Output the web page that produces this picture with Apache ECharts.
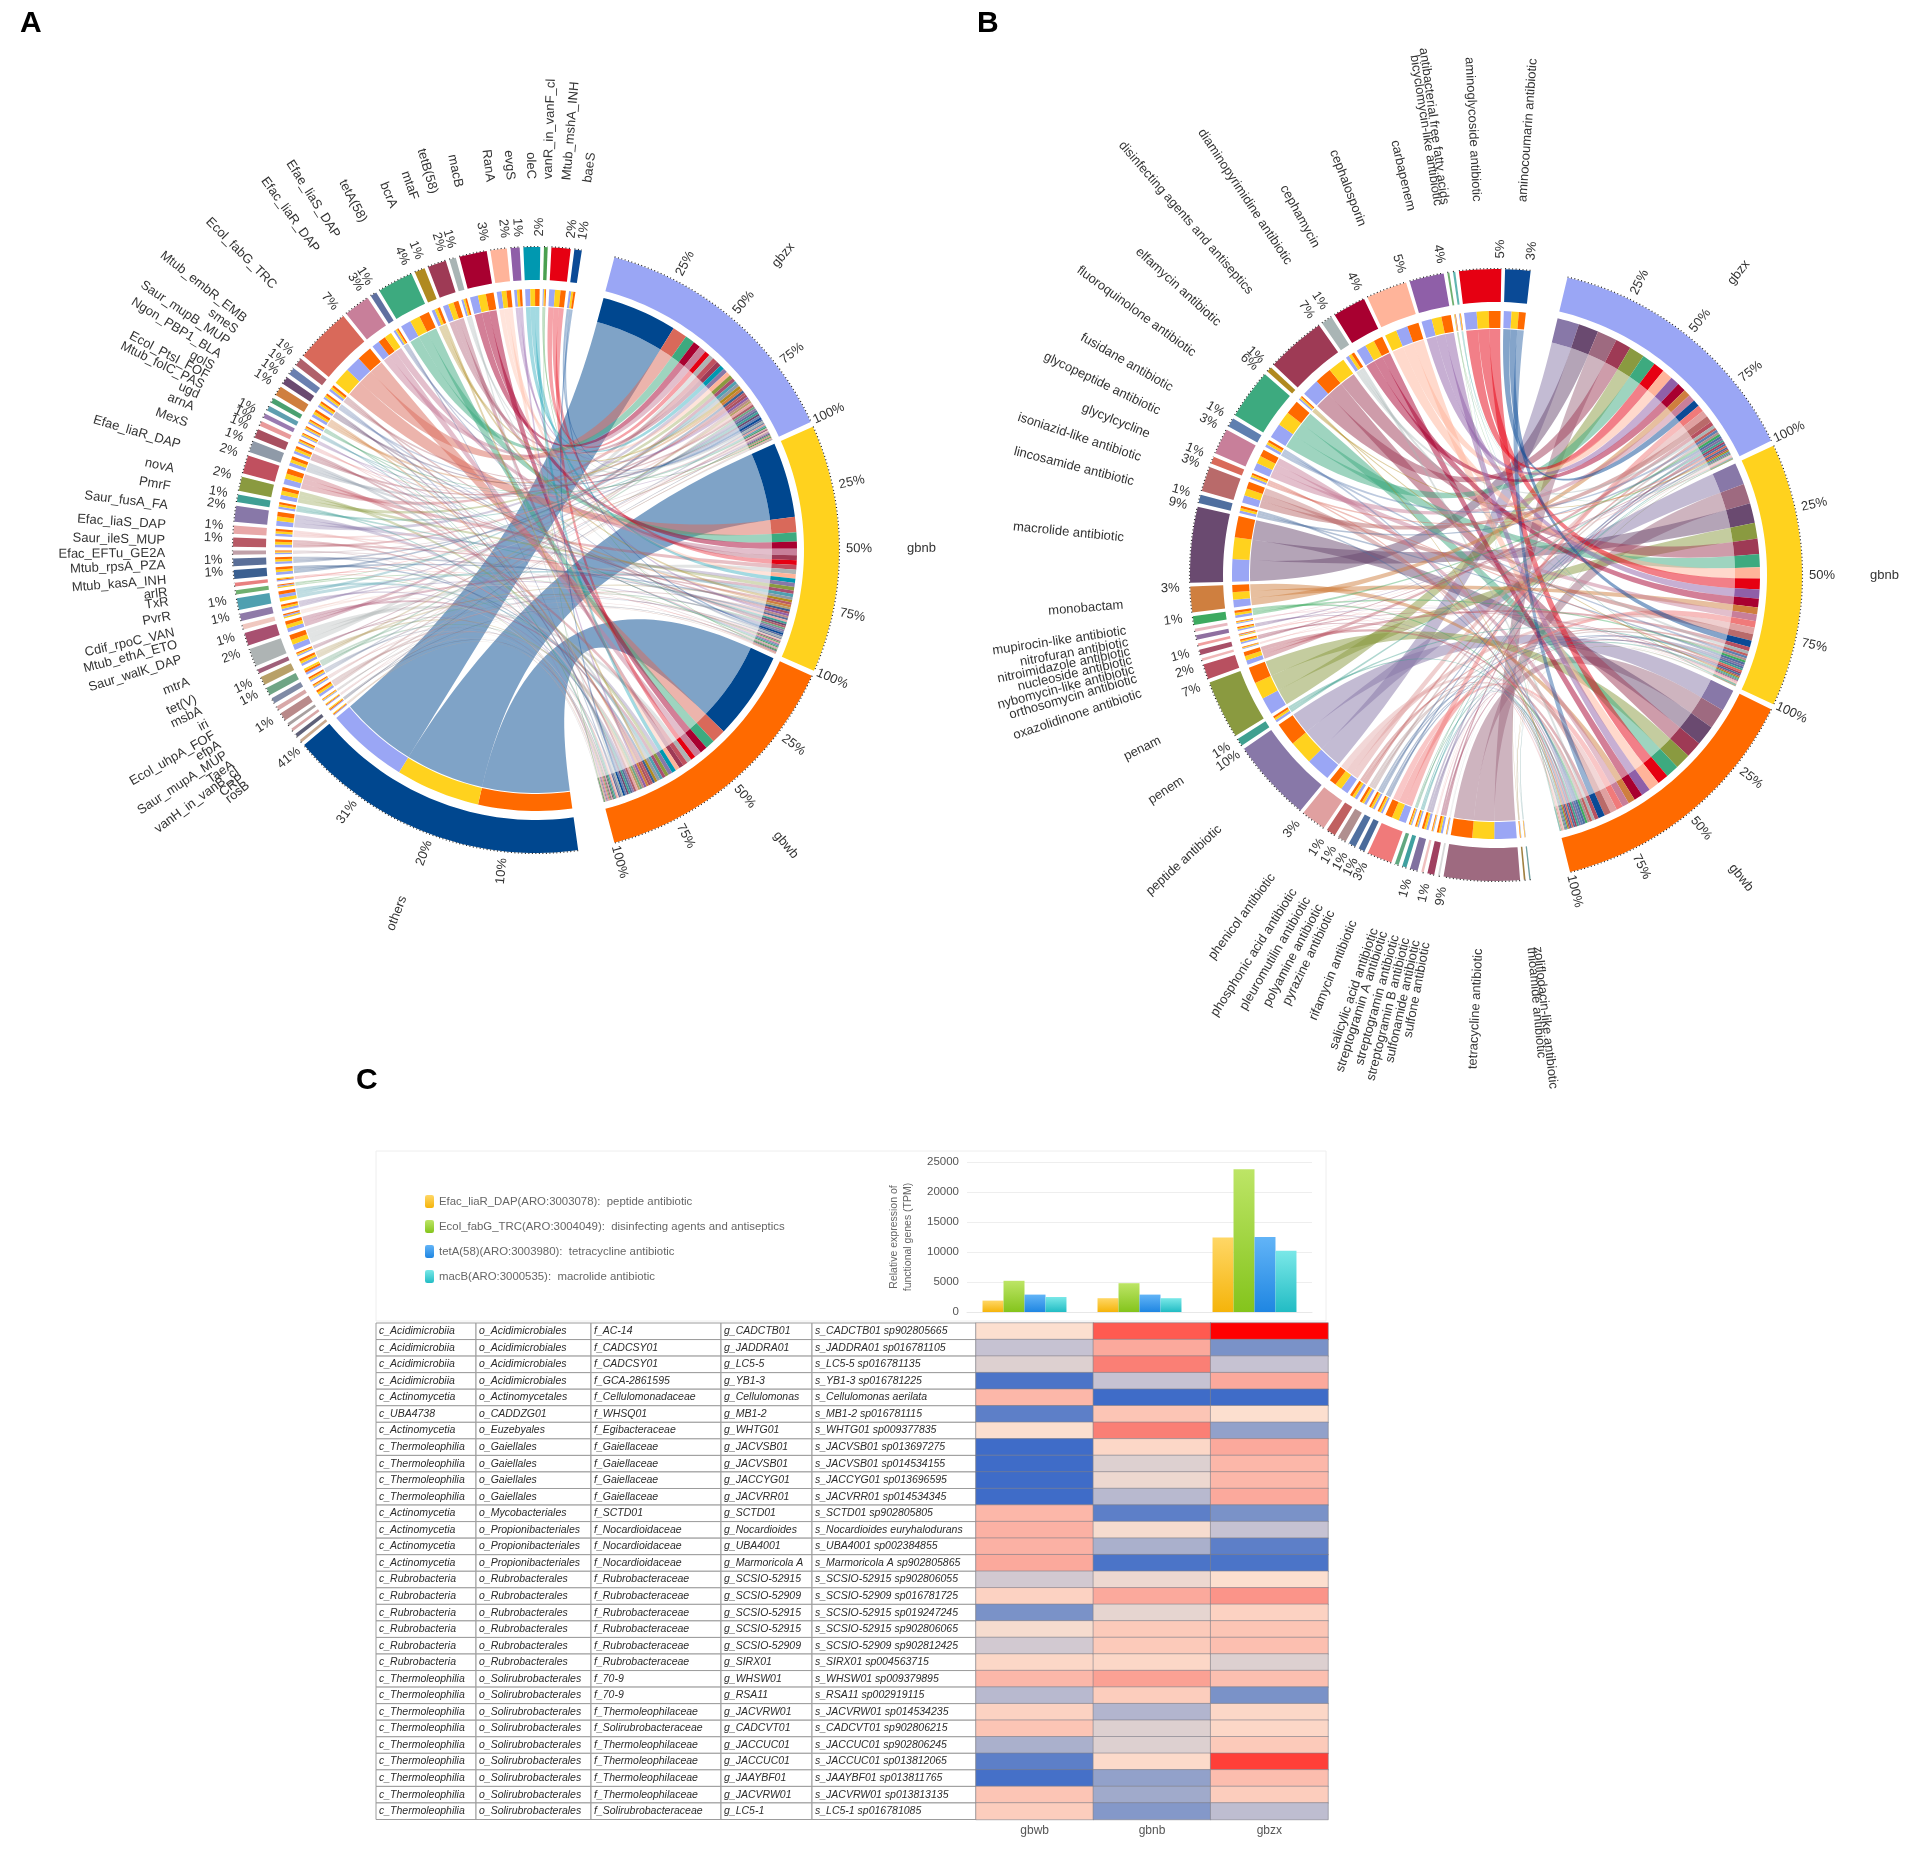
<!DOCTYPE html>
<html><head><meta charset="utf-8">
<style>html,body{margin:0;padding:0;background:#fff}#c{width:1910px;height:1850px}</style>
<script src="https://cdn.jsdelivr.net/npm/echarts@6/dist/echarts.min.js"></script>
</head><body><div id="c"></div>
<script>
// ---------- Panel A ----------
const genesA = ['others','rosB','CRP','vanH_in_vanB_cl','TaeA','Saur_mupA_MUP','efpA','Ecol_uhpA_FOF','iri','msbA','tet(V)','mtrA','Saur_walK_DAP','Mtub_ethA_ETO','Cdif_rpoC_VAN','PvrR','TxR','arlR','Mtub_kasA_INH','Mtub_rpsA_PZA','Efac_EFTu_GE2A','Saur_ileS_MUP','Efac_liaS_DAP','Saur_fusA_FA','PmrF','novA','Efae_liaR_DAP','MexS','arnA','ugd','Mtub_folC_PAS','Ecol_PtsI_FOF','golS','Ngon_PBP1_BLA','Saur_mupB_MUP','smeS','Mtub_embR_EMB','Ecol_fabG_TRC','Efac_liaR_DAP','Efae_liaS_DAP','tetA(58)','bcrA','mtaF','tetB(58)','macB','RanA','evgS','oleC','vanR_in_vanF_cl','Mtub_mshA_INH','baeS'];
const pctA = ['','','','','','1%','','','1%','1%','','2%','1%','','1%','1%','','','1%','1%','','1%','1%','2%','1%','2%','2%','1%','1%','1%','1%','','','1%','1%','1%','1%','7%','3%','1%','4%','1%','2%','1%','3%','2%','1%','2%','','2%','1%'];
const colorsA = ['#00478f','#c9a98f','#5f6078','#d8a8a8','#a8a0a0','#b98a8a','#d8a8a8','#7f8aa5','#6fa585','#b8a068','#a0607a','#aeb4b4','#a85070','#f0c8c0','#8f7aa8','#4fa0b0','#6fb070','#e88080','#3a5f90','#5a6f98','#c0a0a8','#b85a66','#e8a8a8','#8878a8','#3f9f95','#8a9a40','#c0505f','#8f9aa8','#a85060','#e89a9a','#9a7ab0','#5f9fb0','#4aa070','#cf7f3f','#6a4a70','#6a80b0','#b0606a','#d9695a','#c87f9a','#5f70a0','#3daa7f','#b08a20','#9e3a55','#a9b5b5','#a80030','#ffb49a','#8f5fa8','#0098b0','#4aa050','#e60012','#0a4a96'];
const gbzxA = [36,.4,.5,.4,.4,1.1,.6,.8,1,1.1,.6,2.4,1.7,.6,1,1.5,.5,.5,1.2,1,.6,1.2,1.1,2.1,1,1.9,2.4,1.5,1.2,.7,.6,.7,.7,1.3,1,1,1.1,7,3.4,.9,4.6,1.4,2.4,.9,3.5,2.1,1.2,2.2,.5,2.5,1];
const gbnbA = [37,.3,.4,.3,.4,1,.5,.7,.9,1.1,.6,2.2,1.6,.7,.9,1.6,.6,.4,1.1,1,.5,1.2,1,2,1,1.8,2.3,1.4,1.1,.6,.6,.6,.6,1.2,1,.9,1,7.5,3.2,.8,4.5,1.3,2.4,.8,3.5,2.1,1.1,2.1,.5,2.4,.9];
const gbwbA = [41,.4,.5,.4,.3,1,.5,.7,1,1,.5,2.2,1.5,.6,.9,1.4,.5,.5,1.1,.9,.5,1.1,1,1.9,.9,1.6,2.2,1.4,1.1,.6,.5,.6,.6,1.1,.9,.9,1,6.5,3.3,.7,4.4,1.2,2.2,.8,3.4,2,1.1,2,.4,2.3,.9];
// ---------- Panel B ----------
const genesB = ['zoliflodacin-like antibiotic','thioamide antibiotic','tetracycline antibiotic','sulfone antibiotic','sulfonamide antibiotic','streptogramin B antibiotic','streptogramin antibiotic','streptogramin A antibiotic','salicylic acid antibiotic','rifamycin antibiotic','pyrazine antibiotic','polyamine antibiotic','pleuromutilin antibiotic','phosphonic acid antibiotic','phenicol antibiotic','peptide antibiotic','penem','penam','oxazolidinone antibiotic','orthosomycin antibiotic','nybomycin-like antibiotic','nucleoside antibiotic','nitroimidazole antibiotic','nitrofuran antibiotic','mupirocin-like antibiotic','monobactam','macrolide antibiotic','lincosamide antibiotic','isoniazid-like antibiotic','glycylcycline','glycopeptide antibiotic','fusidane antibiotic','fluoroquinolone antibiotic','elfamycin antibiotic','disinfecting agents and antiseptics','diaminopyrimidine antibiotic','cephamycin','cephalosporin','carbapenem','bicyclomycin-like antibiotic','antibacterial free fatty acids','aminoglycoside antibiotic','aminocoumarin antibiotic'];
const pctB = ['','','9%','','1%','','1%','','','3%','1%','1%','1%','1%','3%','10%','1%','7%','2%','','1%','','','','1%','3%','9%','1%','3%','1%','3%','1%','6%','1%','7%','1%','4%','5%','4%','','','5%','3%'];
const colorsB = ['#70a0a0','#a08040','#9e6a80','#d8d8d8','#a04060','#f0c0c0','#8070a0','#40a0a0','#60a880','#f07a7a','#4a6a9a','#5070a0','#b09090','#c06060','#e0a0a0','#8878a8','#40a090','#8a9a40','#b85060','#f0b8b8','#a85068','#f0a0a0','#8f70a0','#e8b8c0','#3daa60','#cf7f3f','#6a4a70','#4f6f9f','#b96a6a','#d96a5a','#c87f9a','#5f7fb0','#3daa7f','#b08a20','#9e3a55','#a9b5b5','#a80030','#ffb49a','#8f5fa8','#6fb070','#5fb5b0','#e60012','#0a4a96'];
const gbzxB = [.2,.2,9.3,.3,.9,.3,1,.6,.5,3.1,.8,.9,1.1,1.2,3.1,10.2,1,7.2,1.9,.3,.7,.3,.6,.4,1.1,3.2,9.4,1.1,3.1,.9,3.2,1.2,6.2,.7,7.3,1.4,4.1,4.9,4.3,.2,.3,5.2,3.2];
const gbnbB = [.2,.2,9.1,.2,.8,.3,.9,.5,.5,3,.8,.9,1,1.1,3,10,.9,7.1,1.8,.3,.6,.4,.5,.4,1,3.1,9,1,3,.9,3.1,1.1,6,.6,7,1.3,4,5,4.1,.3,.3,5,3];
const gbwbB = [.1,.2,8.9,.2,.8,.3,.9,.5,.4,2.9,.7,.8,1,1.1,2.9,9.6,.9,6.8,1.7,.3,.6,.3,.5,.3,1,3,8.8,1,2.9,.8,3,1,5.8,.6,7.1,1.3,3.8,4.8,4,.2,.2,4.9,2.9];
// ---------- Shared chord labels ----------
const genomeNames = ['gbzx','gbnb','gbwb'];
const genomeColors = ['#9aa6f5','#ffd21e','#ff6a00'];
const genomeTicks = ['25%','50%','75%','100%'];
const othersTicks = ['10%','20%','31%','41%'];
// ---------- Panel C bars ----------
const barCats = ['gbwb','gbnb','gbzx'];
const efacLiaR = [1900,2300,12400];
const ecolFabG = [5200,4800,23800];
const tetA58 = [2900,2900,12500];
const macB = [2500,2300,10200];
const barNames = ['Efac_liaR_DAP(ARO:3003078):  peptide antibiotic','Ecol_fabG_TRC(ARO:3004049):  disinfecting agents and antiseptics','tetA(58)(ARO:3003980):  tetracycline antibiotic','macB(ARO:3000535):  macrolide antibiotic'];
// ---------- Panel C table and heat ----------
const classes = ['c_Acidimicrobiia','c_Acidimicrobiia','c_Acidimicrobiia','c_Acidimicrobiia','c_Actinomycetia','c_UBA4738','c_Actinomycetia','c_Thermoleophilia','c_Thermoleophilia','c_Thermoleophilia','c_Thermoleophilia','c_Actinomycetia','c_Actinomycetia','c_Actinomycetia','c_Actinomycetia','c_Rubrobacteria','c_Rubrobacteria','c_Rubrobacteria','c_Rubrobacteria','c_Rubrobacteria','c_Rubrobacteria','c_Thermoleophilia','c_Thermoleophilia','c_Thermoleophilia','c_Thermoleophilia','c_Thermoleophilia','c_Thermoleophilia','c_Thermoleophilia','c_Thermoleophilia','c_Thermoleophilia'];
const orders = ['o_Acidimicrobiales','o_Acidimicrobiales','o_Acidimicrobiales','o_Acidimicrobiales','o_Actinomycetales','o_CADDZG01','o_Euzebyales','o_Gaiellales','o_Gaiellales','o_Gaiellales','o_Gaiellales','o_Mycobacteriales','o_Propionibacteriales','o_Propionibacteriales','o_Propionibacteriales','o_Rubrobacterales','o_Rubrobacterales','o_Rubrobacterales','o_Rubrobacterales','o_Rubrobacterales','o_Rubrobacterales','o_Solirubrobacterales','o_Solirubrobacterales','o_Solirubrobacterales','o_Solirubrobacterales','o_Solirubrobacterales','o_Solirubrobacterales','o_Solirubrobacterales','o_Solirubrobacterales','o_Solirubrobacterales'];
const families = ['f_AC-14','f_CADCSY01','f_CADCSY01','f_GCA-2861595','f_Cellulomonadaceae','f_WHSQ01','f_Egibacteraceae','f_Gaiellaceae','f_Gaiellaceae','f_Gaiellaceae','f_Gaiellaceae','f_SCTD01','f_Nocardioidaceae','f_Nocardioidaceae','f_Nocardioidaceae','f_Rubrobacteraceae','f_Rubrobacteraceae','f_Rubrobacteraceae','f_Rubrobacteraceae','f_Rubrobacteraceae','f_Rubrobacteraceae','f_70-9','f_70-9','f_Thermoleophilaceae','f_Solirubrobacteraceae','f_Thermoleophilaceae','f_Thermoleophilaceae','f_Thermoleophilaceae','f_Thermoleophilaceae','f_Solirubrobacteraceae'];
const genera = ['g_CADCTB01','g_JADDRA01','g_LC5-5','g_YB1-3','g_Cellulomonas','g_MB1-2','g_WHTG01','g_JACVSB01','g_JACVSB01','g_JACCYG01','g_JACVRR01','g_SCTD01','g_Nocardioides','g_UBA4001','g_Marmoricola A','g_SCSIO-52915','g_SCSIO-52909','g_SCSIO-52915','g_SCSIO-52915','g_SCSIO-52909','g_SIRX01','g_WHSW01','g_RSA11','g_JACVRW01','g_CADCVT01','g_JACCUC01','g_JACCUC01','g_JAAYBF01','g_JACVRW01','g_LC5-1'];
const species = ['s_CADCTB01 sp902805665','s_JADDRA01 sp016781105','s_LC5-5 sp016781135','s_YB1-3 sp016781225','s_Cellulomonas aerilata','s_MB1-2 sp016781115','s_WHTG01 sp009377835','s_JACVSB01 sp013697275','s_JACVSB01 sp014534155','s_JACCYG01 sp013696595','s_JACVRR01 sp014534345','s_SCTD01 sp902805805','s_Nocardioides euryhalodurans','s_UBA4001 sp002384855','s_Marmoricola A sp902805865','s_SCSIO-52915 sp902806055','s_SCSIO-52909 sp016781725','s_SCSIO-52915 sp019247245','s_SCSIO-52915 sp902806065','s_SCSIO-52909 sp902812425','s_SIRX01 sp004563715','s_WHSW01 sp009379895','s_RSA11 sp002919115','s_JACVRW01 sp014534235','s_CADCVT01 sp902806215','s_JACCUC01 sp902806245','s_JACCUC01 sp013812065','s_JAAYBF01 sp013811765','s_JACVRW01 sp013813135','s_LC5-1 sp016781085'];
const heatGbwb = [5,3,4,.2,6.5,.5,5,0,0,0,0,6.5,6.7,6.7,7,3.5,5.5,1,4.8,3.5,5.3,6.5,2.5,5.5,6,2,.5,.1,6,5.7];
const heatGbnb = [9,7,8,3,0,6,8,5.3,4,4.5,2.5,.5,4.8,2,.2,4.5,7,4.3,5.8,5.8,5.3,7.2,5.7,2.3,4,4,5.2,1.5,1.8,1.2];
const heatGbzx = [10,1,3,7,0,5,1.5,7,6.5,6.5,7,1,3,.5,.2,5,7.5,5.5,6,6.2,4,6.2,1,5.3,5.3,5.8,9.3,6.3,5.7,2.7];
const heatColors = ['#3f6cc8','#7a92c8','#aab0cc','#c6c2d2','#ddd0d0','#fcdfcf','#fcc5b5','#fba99c','#fa7f75','#ff5a50','#ff0000'];

const FONT = '"Liberation Sans", Arial, sans-serif';
const mod = a => ((a % 360) + 360) % 360;
function arcPts(api, r, a0, a1) {
  const n = Math.max(1, Math.ceil(Math.abs(a1 - a0) / 1.5)), out = [];
  for (let i = 0; i <= n; i++) out.push(api.coord([r, mod(a0 + (a1 - a0) * i / n)]));
  return out;
}
function bez(p0, c, p1) {
  const out = [];
  for (let i = 1; i < 40; i++) {
    const t = i / 40, u = 1 - t;
    out.push([u*u*p0[0] + 2*u*t*c[0] + t*t*p1[0], u*u*p0[1] + 2*u*t*c[1] + t*t*p1[1]]);
  }
  return out;
}
function chordSeries(idx, cfg) {
  const fl = [cfg.z, cfg.n, cfg.w], N = cfg.names.length;
  let units = 0;
  for (let i = 0; i < N; i++) units += fl[0][i] + fl[1][i] + fl[2][i];
  const gScale = (cfg.geneEnd - cfg.geneStart - cfg.gap * (N - 1)) / units;
  const bands = [], ribbons = [], texts = [], edges = [];
  const geneParts = [];
  let cur = cfg.geneStart;
  for (let i = 0; i < N; i++) {
    const parts = [0, 1, 2].map(j => ({ j, v: fl[j][i] })).sort((p, q) => q.v - p.v);
    const start = cur;
    parts.forEach(p => {
      const d = p.v * gScale;
      p.a0 = cur; p.a1 = cur + d; cur += d;
      bands.push({ r0: cfg.R - 59, r1: cfg.R - 42, a0: p.a0, a1: p.a1, color: genomeColors[p.j] });
      geneParts[i] = geneParts[i] || []; geneParts[i][p.j] = p;
    });
    bands.push({ r0: cfg.R - 33, r1: cfg.R, a0: start, a1: cur, color: cfg.colors[i] });
    edges.push([start, cur]);
    const mid = (start + cur) / 2;
    if (cfg.pct[i]) texts.push({ t: cfg.pct[i], r: cfg.R + 20, a: cur - 0.2, anchor: 'c' });
    if (cfg.others && i === 0) {
      othersTicks.forEach((t, k) => texts.push({ t, r: cfg.R + 20, a: start + (cur - start) * [10,20,31,41][k] / 41, anchor: 'c' }));
    }
    texts.push({ t: cfg.names[i], r: cfg.R + 68, a: mid, anchor: 'e' });
    cur += cfg.gap;
  }
  cfg.genomes.forEach((g, j) => {
    const total = fl[j].reduce((s, v) => s + v, 0), sc = (g[1] - g[0]) / total;
    const order = fl[j].map((v, i) => ({ v, i })).sort((p, q) => q.v - p.v);
    let c = g[0];
    order.forEach(o => {
      const b0 = c, b1 = c + o.v * sc; c = b1;
      bands.push({ r0: cfg.R - 67, r1: cfg.R - 42, a0: b0, a1: b1, color: cfg.colors[o.i] });
      const p = geneParts[o.i][j];
      ribbons.push({ a0: p.a0, a1: p.a1, b0, b1, color: cfg.colors[o.i], w: o.v });
    });
    bands.push({ r0: cfg.R - 35, r1: cfg.R, a0: g[0], a1: g[1], color: genomeColors[j] });
    edges.push([g[0], g[1]]);
    genomeTicks.forEach((t, k) => texts.push({ t, r: cfg.R + 20, a: g[0] + (g[1] - g[0]) * [25,50,75,100][k] / 100, anchor: 'c' }));
    texts.push({ t: genomeNames[j], r: cfg.R + 68, a: (g[0] + g[1]) / 2, anchor: 'e' });
  });
  ribbons.sort((x, y) => y.w - x.w);
  const base = { type: 'custom', coordinateSystem: 'polar', polarIndex: idx, silent: true, animation: false, encode: { radius: 0, angle: 1 } };
  return [
    Object.assign({}, base, { data: ribbons.map(r => [cfg.R - 68, mod(r.a0)]), z: 2,
      renderItem(p, api) {
        const r = ribbons[p.dataIndex], Rr = cfg.R - 67, Rg = cfg.R - 60, c = api.coord([0, 0]);
        const A = arcPts(api, Rg, r.a0, r.a1), B = arcPts(api, Rr, r.b0, r.b1);
        const pts = A.concat(bez(A[A.length - 1], c, B[0]), B, bez(B[B.length - 1], c, A[0]));
        return { type: 'polygon', shape: { points: pts }, style: { fill: r.color, opacity: r.w >= 3 ? 0.5 : cfg.thin } };
      } }),
    Object.assign({}, base, { data: bands.map(b => [b.r1, mod(b.a0)]), z: 3,
      renderItem(p, api) {
        const b = bands[p.dataIndex];
        const pts = arcPts(api, b.r1, b.a0, b.a1).concat(arcPts(api, b.r0, b.a1, b.a0));
        return { type: 'polygon', shape: { points: pts }, style: { fill: b.color } };
      } }),
    Object.assign({}, base, { data: edges.map(e => [cfg.R, mod(e[0])]), z: 4,
      renderItem(p, api) {
        const e = edges[p.dataIndex];
        return { type: 'polyline', shape: { points: arcPts(api, cfg.R + 0.5, e[0], e[1]) }, style: { stroke: '#222', lineWidth: 1.2, lineDash: [1, 2.5], fill: null } };
      } }),
    Object.assign({}, base, { data: texts.map(t => [t.r, mod(t.a)]), z: 5,
      renderItem(p, api) {
        const t = texts[p.dataIndex], a = mod(t.a), pt = api.coord([t.r, a]);
        const right = a < 180;
        const rot = right ? -(a - 90) : -(a - 270);
        const align = t.anchor === 'c' ? 'center' : (right ? 'left' : 'right');
        return { type: 'text', x: pt[0], y: pt[1], rotation: rot * Math.PI / 180,
          style: { text: t.t, x: 0, y: 0, align, verticalAlign: 'middle', fill: '#333', font: '13px ' + FONT } };
      } })
  ];
}
const seriesA = chordSeries(0, { R: 303, thin: 0.36, names: genesA, pct: pctA, colors: colorsA, z: gbzxA, n: gbnbA, w: gbwbA, others: true, geneStart: 172, geneEnd: 368.7, gap: 0.7, genomes: [[15, 65], [66, 113.5], [114.5, 165]] });
const seriesB = chordSeries(1, { R: 306, thin: 0.42, names: genesB, pct: pctB, colors: colorsB, z: gbzxB, n: gbnbB, w: gbwbB, others: false, geneStart: 173.5, geneEnd: 366.5, gap: 0.7, genomes: [[13.5, 64], [65, 115], [116, 166]] });

const grad = (a, b) => new echarts.graphic.LinearGradient(0, 0, 0, 1, [{ offset: 0, color: a }, { offset: 1, color: b }]);
const barSeries = [[efacLiaR, '#ffd766', '#f5b40a'], [ecolFabG, '#bde566', '#84c41c'], [tetA58, '#62b4f7', '#1f86e2'], [macB, '#7ae8e8', '#22bcc4']].map((b, i) => ({
  name: barNames[i], type: 'bar', xAxisIndex: 0, yAxisIndex: 0, data: b[0], barGap: 0, barCategoryGap: '27%',
  itemStyle: { color: grad(b[1], b[2]) }, animation: false, silent: true
}));
const tableCols = [classes, orders, families, genera, species];
const colStart = [0, 100, 215, 345, 436], colEnd = [100, 215, 345, 436, 600];
const cells = [];
tableCols.forEach((col, c) => col.forEach((t, r) => cells.push([colStart[c], r, c])));
const tableSeries = {
  type: 'custom', xAxisIndex: 1, yAxisIndex: 1, silent: true, animation: false, data: cells, encode: { x: 0, y: 1 },
  renderItem(p, api) {
    const c = api.value(2), r = api.value(1), pt = api.coord([colStart[c], r]);
    const h = api.size([0, 1])[1], w = api.size([colEnd[c] - colStart[c], 0])[0];
    return { type: 'group', children: [
      { type: 'rect', shape: { x: pt[0], y: pt[1] - h / 2, width: w, height: h }, style: { fill: '#fff', stroke: '#9c9c9c', lineWidth: 1 } },
      { type: 'text', x: pt[0] + 3, y: pt[1], style: { text: tableCols[c][r], x: 0, y: 0, align: 'left', verticalAlign: 'middle', fill: '#2c2c2c', font: 'italic 10.5px ' + FONT } }
    ] };
  }
};
const heatData = [];
[heatGbwb, heatGbnb, heatGbzx].forEach((col, c) => col.forEach((v, r) => heatData.push([c, r, v])));
const heatSeries = { type: 'heatmap', xAxisIndex: 2, yAxisIndex: 2, data: heatData, silent: true, animation: false, itemStyle: { borderColor: '#7f7f8a', borderWidth: 0.6 } };
const allSeries = barSeries.concat([tableSeries, heatSeries], seriesA, seriesB);
const rows = classes.map((_, i) => i);
const chart = echarts.init(document.getElementById('c'), null, { renderer: 'canvas' });
const letter = (t, x, y) => ({ type: 'text', x, y, style: { text: t, fill: '#000', font: 'bold 30px ' + FONT } });
chart.setOption({
  backgroundColor: '#fff', animation: false, textStyle: { fontFamily: FONT },
  graphic: [letter('A', 20, 9), letter('B', 977, 9), letter('C', 356, 1066),
    { type: 'rect', z: -1, shape: { x: 376, y: 1151, width: 950, height: 170 }, style: { fill: '#fff', stroke: '#eeeeee', lineWidth: 1 } }],
  legend: { data: barNames, orient: 'vertical', left: 420, top: 1190, itemGap: 12, itemWidth: 9, itemHeight: 13, selectedMode: false, textStyle: { fontSize: 11.4, color: '#666' } },
  polar: [{ center: [536, 550], radius: [0, 303] }, { center: [1496, 575], radius: [0, 306] }],
  angleAxis: [0, 1].map(i => ({ polarIndex: i, type: 'value', min: 0, max: 360, startAngle: 90, clockwise: true, show: false })),
  radiusAxis: [[0, 303], [1, 306]].map(a => ({ polarIndex: a[0], type: 'value', min: 0, max: a[1], show: false })),
  grid: [
    { left: 967, top: 1162, width: 345, height: 150 },
    { left: 376, top: 1323, width: 600, height: 496.5 },
    { left: 976, top: 1323, width: 352, height: 496.5 }
  ],
  xAxis: [
    { gridIndex: 0, type: 'category', data: barCats, axisLabel: { show: false }, axisTick: { show: false }, axisLine: { lineStyle: { color: '#e8e8e8' } } },
    { gridIndex: 1, type: 'value', min: 0, max: 600, show: false },
    { gridIndex: 2, type: 'category', data: barCats, axisTick: { show: false }, axisLine: { show: false }, axisLabel: { fontSize: 12, color: '#555', margin: 5 } }
  ],
  yAxis: [
    { gridIndex: 0, type: 'value', min: 0, max: 25000, interval: 5000, name: 'Relative expression of\nfunctional genes (TPM)', nameLocation: 'middle', nameGap: 52, nameRotate: 90, nameTextStyle: { fontSize: 10.5, color: '#666', lineHeight: 14 },
      axisLabel: { fontSize: 11.5, color: '#555', margin: 8, formatter: v => String(v) }, axisLine: { show: false }, axisTick: { show: false }, splitLine: { lineStyle: { color: '#eeeeee' } } },
    { gridIndex: 1, type: 'category', data: rows, inverse: true, show: false },
    { gridIndex: 2, type: 'category', data: rows, inverse: true, show: false }
  ],
  visualMap: { show: false, type: 'continuous', min: 0, max: 10, seriesIndex: 5, inRange: { color: heatColors }, dimension: 2 },
  series: allSeries
});
</script></body></html>
